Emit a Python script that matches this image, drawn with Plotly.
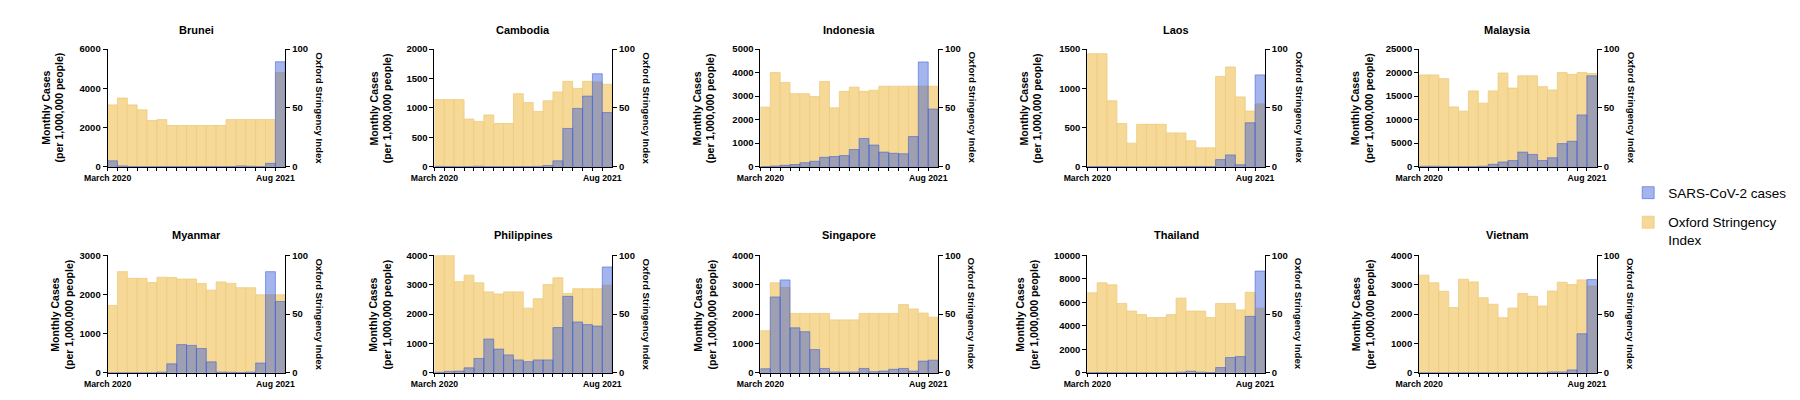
import plotly.graph_objects as go

W, H = 1800, 400

months = ["Mar 2020", "Apr 2020", "May 2020", "Jun 2020", "Jul 2020", "Aug 2020",
          "Sep 2020", "Oct 2020", "Nov 2020", "Dec 2020", "Jan 2021", "Feb 2021",
          "Mar 2021", "Apr 2021", "May 2021", "Jun 2021", "Jul 2021", "Aug 2021"]
tick_text = ["March 2020"] + [""] * 16 + ["Aug 2021"]

countries = ["Brunei", "Cambodia", "Indonesia", "Laos", "Malaysia",
             "Myanmar", "Philippines", "Singapore", "Thailand", "Vietnam"]

# Monthly cases per 1,000,000 people
brunei_cases = [300, 40, 5, 0, 0, 5, 5, 5, 5, 10, 10, 5, 10, 40, 20, 10, 170, 5350]
cambodia_cases = [5, 2, 0, 1, 8, 1, 1, 1, 2, 2, 5, 20, 100, 650, 990, 1200, 1580, 920]
indonesia_cases = [5, 30, 60, 90, 170, 230, 400, 430, 470, 730, 1200, 920, 620, 570, 550, 1280, 4450, 2450]
laos_cases = [2, 2, 0, 0, 0, 0, 0, 0, 0, 1, 2, 3, 2, 90, 150, 25, 560, 1170]
malaysia_cases = [85, 95, 60, 30, 20, 30, 100, 500, 1000, 1300, 3100, 2600, 1300, 1900, 4900, 5400, 11000, 19300]
myanmar_cases = [0, 3, 2, 2, 2, 20, 230, 720, 700, 620, 280, 20, 15, 10, 20, 250, 2580, 1820]
philippines_cases = [20, 50, 60, 170, 490, 1150, 810, 610, 440, 380, 440, 440, 1540, 2600, 1730, 1640, 1590, 3600]
singapore_cases = [140, 2580, 3160, 1530, 1400, 790, 150, 30, 30, 30, 150, 40, 60, 120, 150, 60, 400, 430]
thailand_cases = [25, 20, 1, 1, 2, 2, 2, 3, 3, 60, 140, 60, 30, 450, 1300, 1380, 4800, 8650]
vietnam_cases = [2, 1, 0, 0, 2, 6, 1, 0, 0, 1, 2, 5, 1, 30, 30, 100, 1330, 3170]

# Oxford Stringency Index (0-100)
brunei_osi = [52.5, 58.3, 52.5, 48.3, 39.2, 40, 35, 35, 35, 35, 35, 35, 40, 40, 40, 40, 40, 80]
cambodia_osi = [57, 57, 57, 40.5, 38.5, 44, 36.7, 36.7, 62, 54.5, 47, 56, 63.5, 72.5, 66.5, 72.5, 72, 70]
indonesia_osi = [50.6, 80, 71.6, 62, 62, 59.6, 72.4, 50, 64, 67.6, 64, 65, 68.4, 68.4, 68.4, 68.4, 68.4, 68.4]
laos_osi = [96, 96, 56, 36.7, 20, 36, 36, 36, 28.7, 28.7, 22, 16, 16, 76.7, 84.7, 59.3, 47.3, 53.3]
malaysia_osi = [78, 78, 74.8, 50.8, 47.2, 64.4, 54, 64.4, 79.6, 66.8, 77.2, 77.2, 68, 65.2, 80, 78.4, 80, 79.2]
myanmar_osi = [57.3, 86, 80.3, 80.3, 76.7, 81.3, 81, 79.7, 79.7, 76, 70.3, 77.3, 76, 72.3, 72.3, 66.3, 66.3, 66.3]
philippines_osi = [100, 100, 77.5, 83, 76.5, 68.8, 67, 68.8, 68.8, 55, 63, 75, 80.8, 67.5, 71.5, 71.5, 71.5, 74.5]
singapore_osi = [35.8, 76.5, 72.5, 50.5, 50.5, 50.5, 50.5, 45, 45, 45, 50.5, 50.5, 50.5, 50.5, 58, 54.3, 50.8, 47.3]
thailand_osi = [68, 76.5, 74.8, 59, 52.5, 49.5, 47, 47, 49.5, 63.5, 52.5, 52.5, 47, 59, 59, 53.5, 68.5, 55]
vietnam_osi = [83, 76.5, 69.3, 55.5, 79.5, 77.3, 63.8, 58.3, 46.8, 55, 67.5, 65, 56.8, 69.5, 77, 75, 79, 73.8]

cases = [brunei_cases, cambodia_cases, indonesia_cases, laos_cases, malaysia_cases,
         myanmar_cases, philippines_cases, singapore_cases, thailand_cases, vietnam_cases]
osi = [brunei_osi, cambodia_osi, indonesia_osi, laos_osi, malaysia_osi,
       myanmar_osi, philippines_osi, singapore_osi, thailand_osi, vietnam_osi]

case_axis_max = [6000, 2000, 5000, 1500, 25000, 3000, 4000, 4000, 10000, 4000]
case_axis_step = [2000, 500, 1000, 500, 5000, 1000, 1000, 1000, 2000, 1000]
osi_ticks = [0, 50, 100]

# layout geometry (pixels)
plot_left = [77, 410, 742, 1075, 1413]
plot_w = 181
plot_top = [36, 248]
plot_h = 121
title_y = [16, 227]
left_title_x = [21, 355, 684, 1017, 1355, 31, 355, 686, 1014, 1356]

FONT = "Liberation Sans, Arial, Helvetica, sans-serif"
YELLOW = "rgb(246,217,150)"
YELLOW_EDGE = "rgb(238,204,128)"
BLUE = "rgba(53,89,213,0.45)"
BLUE_EDGE = "rgba(60,95,225,0.7)"

fig = go.Figure()
layout = {}
annotations = []

for k, name in enumerate(countries):
    r, c = divmod(k, 5)
    x0 = plot_left[c] / W
    x1 = (plot_left[c] + plot_w) / W
    ytop = 1 - plot_top[r] / H
    ybot = 1 - (plot_top[r] + plot_h) / H
    xn = "x" if k == 0 else f"x{k + 1}"
    ys = f"y{2 * k + 1}" if k > 0 else "y"
    yc = f"y{2 * k + 2}"

    fig.add_trace(go.Bar(
        x=months, y=osi[k], xaxis=xn, yaxis=ys, offset=0, width=1,
        marker=dict(color=YELLOW, line=dict(color=YELLOW_EDGE, width=0.8)),
        name="Oxford Stringency<br>Index", legendgroup="osi", legendrank=2,
        showlegend=(k == 0)))
    fig.add_trace(go.Bar(
        x=months, y=cases[k], xaxis=xn, yaxis=yc, offset=0, width=1,
        marker=dict(color=BLUE, line=dict(color=BLUE_EDGE, width=0.8)),
        name="SARS-CoV-2 cases", legendgroup="cases", legendrank=1,
        showlegend=(k == 0)))

    axfont = dict(family=FONT, size=9.5, color="black", weight="bold")
    layout["xaxis" if k == 0 else f"xaxis{k + 1}"] = dict(
        domain=[x0, x1], anchor=ys, type="category",
        categoryorder="array", categoryarray=months, range=[0, 18],
        tickmode="array", tickvals=months, ticktext=tick_text, tickangle=0,
        ticks="outside", ticklen=3, tickwidth=1, tickcolor="black",
        showline=True, linecolor="black", linewidth=1, showgrid=False,
        tickfont=dict(family=FONT, size=8.7, color="black", weight="bold"),
        fixedrange=True)
    layout["yaxis" if k == 0 else f"yaxis{2 * k + 1}"] = dict(
        domain=[ybot, ytop], anchor=xn, side="right", range=[0, 100],
        tickmode="array", tickvals=osi_ticks,
        ticks="outside", ticklen=4, tickwidth=1, tickcolor="black",
        showline=True, linecolor="black", linewidth=1, showgrid=False,
        zeroline=False, tickfont=axfont, fixedrange=True)
    layout[f"yaxis{2 * k + 2}"] = dict(
        overlaying=ys, anchor=xn, side="left",
        range=[0, case_axis_max[k]], tick0=0, dtick=case_axis_step[k],
        tickformat="d",
        ticks="outside", ticklen=4, tickwidth=1, tickcolor="black",
        showline=True, linecolor="black", linewidth=1, showgrid=False,
        zeroline=False, tickfont=axfont, fixedrange=True)

    cx = (plot_left[c] + plot_w / 2) / W
    cy = 1 - (plot_top[r] + plot_h / 2) / H
    annotations.append(dict(
        text=f"<b>{name}</b>", x=cx, y=1 - title_y[r] / H, xref="paper", yref="paper",
        showarrow=False, xanchor="center", yanchor="middle",
        font=dict(family=FONT, size=11, color="black")))
    annotations.append(dict(
        text="<b>Monthly Cases</b><br><b>(per 1,000,000 people)</b>",
        x=left_title_x[k] / W, y=cy,
        xref="paper", yref="paper", showarrow=False, textangle=-90,
        xanchor="center", yanchor="middle",
        font=dict(family=FONT, size=10.5, color="black")))
    annotations.append(dict(
        text="<b>Oxford Stringency Index</b>", x=(plot_left[c] + plot_w + 35) / W,
        y=cy, xref="paper", yref="paper", showarrow=False, textangle=90,
        xanchor="center", yanchor="middle",
        font=dict(family=FONT, size=9.6, color="black")))

fig.update_layout(
    **layout,
    annotations=annotations,
    barmode="overlay",
    width=W, height=H,
    margin=dict(l=0, r=0, t=0, b=0),
    paper_bgcolor="white", plot_bgcolor="white",
    font=dict(family=FONT, color="black"),
    showlegend=True,
    legend=dict(x=1626 / W, y=1 - 168 / H, xanchor="left", yanchor="top",
                font=dict(family=FONT, size=13.5, color="black"),
                valign="top", tracegroupgap=9, bgcolor="rgba(0,0,0,0)"),
)

fig.write_html("out.html")
